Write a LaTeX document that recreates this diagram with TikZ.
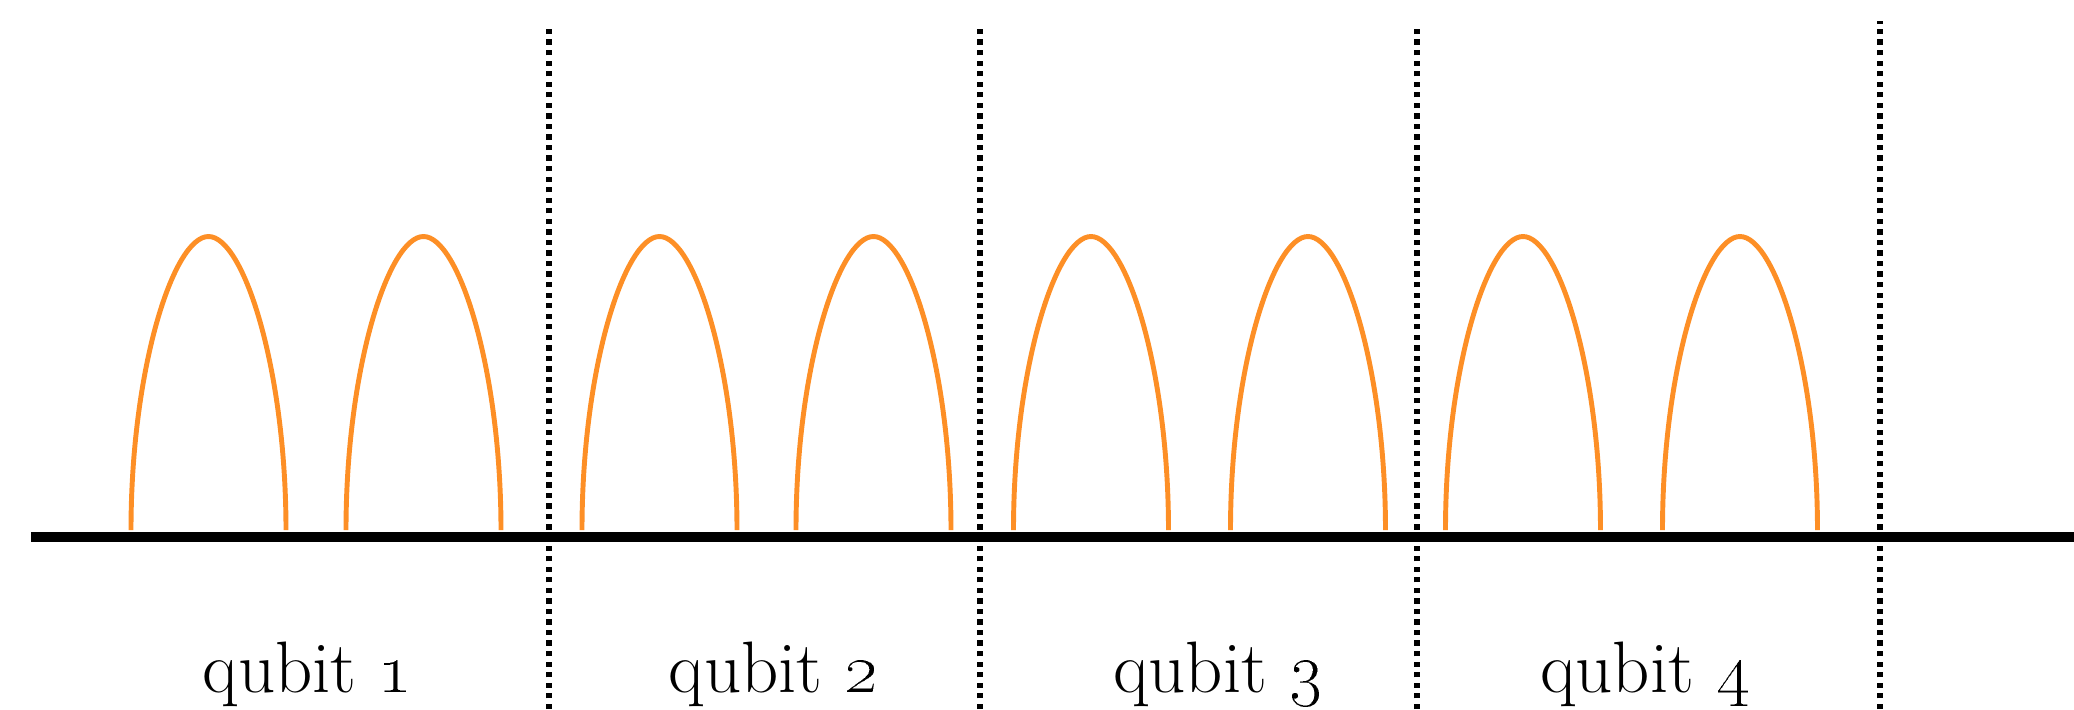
\documentclass[tikz,border=0pt]{standalone}
\usepackage{tikz}
\definecolor{archorange}{RGB}{253,143,38}

\begin{document}
\begin{tikzpicture}[x=1cm,y=1cm,
    arch/.style={draw=archorange,line width=1.4pt},
    divider/.style={line width=1.5pt,dash pattern=on 1.5pt off 1.5pt},
    qlabel/.style={anchor=base,font=\fontsize{20.74}{24}\selectfont}]
    \useasboundingbox (0,0) rectangle (20.74,7.09);

    % the line and the cuts between the qubits
    \draw[line width=2.85pt] (0.31,1.72) -- (20.74,1.72);
    \foreach \x/\t in {5.49/6.80,9.80/6.80,14.17/6.80,18.80/6.88}{
        \draw[divider] (\x,0) -- (\x,\t);
    }

    \foreach \c in {2.085,4.235,6.595,8.735,10.91,13.08,15.23,17.40}{
        \draw[arch] (\c-0.775,1.79) .. controls (\c-0.775,3.40) and (\c-0.35,4.725)
            .. (\c,4.725) .. controls (\c+0.35,4.725) and (\c+0.775,3.40) .. (\c+0.775,1.79);
    }

    \node[qlabel] (q1) at (3.075,0.17) {qubit \oldstylenums{1}};
    \node[qlabel] (q2) at (7.735,0.17) {qubit \oldstylenums{2}};
    \node[qlabel] (q3) at (12.18,0.17) {qubit \oldstylenums{3}};
    \node[qlabel] (q4) at (16.45,0.17) {qubit \oldstylenums{4}};
\end{tikzpicture}
\end{document}
